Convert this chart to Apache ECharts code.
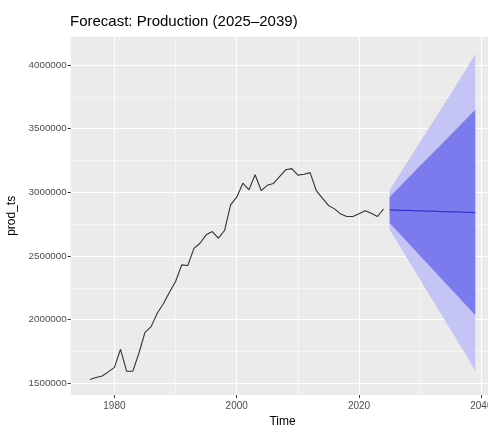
<!DOCTYPE html>
<html>
<head>
<meta charset="utf-8">
<script src="https://cdn.jsdelivr.net/npm/echarts@6/dist/echarts.min.js"></script>
<style>
  html, body { margin: 0; padding: 0; background: #ffffff; }
  #chart { width: 488px; height: 425px; }
</style>
</head>
<body>
<div id="chart"></div>
<script>
// Annual production history
const histYears = [1976,1977,1978,1979,1980,1981,1982,1983,1984,1985,1986,1987,1988,1989,
  1990,1991,1992,1993,1994,1995,1996,1997,1998,1999,2000,2001,2002,2003,2004,2005,2006,
  2007,2008,2009,2010,2011,2012,2013,2014,2015,2016,2017,2018,2019,2020,2021,2022,2023,2024];
const histValues = [1530000,1545000,1557000,1590000,1625000,1767000,1594000,1594000,1736000,
  1900000,1945000,2050000,2125000,2215000,2300000,2430000,2425000,2560000,2600000,2666000,
  2692000,2640000,2700000,2902000,2962000,3072000,3020000,3138000,3014000,3055000,3070000,
  3124000,3177000,3186000,3135000,3142000,3155000,3014000,2955000,2897000,2870000,2829000,
  2810000,2810000,2831000,2855000,2836000,2810000,2868000];

// Forecast horizon with point forecast and 80% / 95% intervals
const fcYears = [2025,2026,2027,2028,2029,2030,2031,2032,2033,2034,2035,2036,2037,2038,2039];
const fcMean = [2862000,2861000,2859000,2858000,2856000,2855000,2853000,2852000,2850000,
  2849000,2847000,2846000,2844000,2843000,2841000];
const fcLo80 = [2760000,2709000,2656000,2604000,2552000,2500000,2448000,2397000,2345000,
  2294000,2242000,2191000,2138000,2087000,2034000];
const fcHi80 = [2964000,3013000,3062000,3112000,3160000,3210000,3258000,3307000,3355000,
  3404000,3452000,3501000,3550000,3599000,3648000];
const fcLo95 = [2707000,2629000,2549000,2470000,2391000,2313000,2233000,2155000,2076000,
  1998000,1919000,1841000,1761000,1679000,1596000];
const fcHi95 = [3017000,3093000,3169000,3246000,3321000,3397000,3473000,3549000,3624000,
  3700000,3775000,3851000,3927000,4007000,4086000];

// Axis ticks
const xMajor = [1980, 2000, 2020, 2040];
const xMinor = [1990, 2010, 2030];
const yMajor = [1500000, 2000000, 2500000, 3000000, 3500000, 4000000];
const yMinor = [1750000, 2250000, 2750000, 3250000, 3750000];

const X_MIN = 1972.85, X_MAX = 2042.15;
const Y_MIN = 1408000, Y_MAX = 4222500;

const pairs = (xs, ys) => xs.map((x, i) => [x, ys[i]]);

const PANEL = '#EBEBEB';
const LIGHT = '#c5c5f5';
const DARK = '#7b7bed';
const FONT = 'Liberation Sans, Arial, sans-serif';

const chart = echarts.init(document.getElementById('chart'), null, { renderer: 'canvas' });

// A filled interval band: upper edge left-to-right, then lower edge back.
const bandSeries = (name, lower, upper, color, z) => ({
  name, type: 'custom', silent: true, z,
  data: [[fcYears[0], lower[0]]],
  renderItem: (params, api) => {
    const pts = [];
    fcYears.forEach((yr, i) => pts.push(api.coord([yr, upper[i]])));
    for (let i = fcYears.length - 1; i >= 0; i--) pts.push(api.coord([fcYears[i], lower[i]]));
    return { type: 'polygon', shape: { points: pts }, style: { fill: color } };
  }
});

chart.setOption({
  animation: false,
  backgroundColor: '#ffffff',
  title: {
    text: 'Forecast: Production (2025–2039)',
    left: 70, top: 14, padding: 0,
    textStyle: { fontFamily: FONT, fontSize: 15, fontWeight: 'normal', color: '#000000' }
  },
  grid: {
    left: 70.7, top: 36.7, right: -6.5, bottom: 30,
    show: true, backgroundColor: PANEL, borderWidth: 0,
    containLabel: false, outerBoundsMode: 'none'
  },
  xAxis: [{
    type: 'value', min: X_MIN, max: X_MAX,
    name: 'Time', nameLocation: 'middle', nameGap: 20,
    nameTextStyle: { fontFamily: FONT, fontSize: 12, color: '#000000', verticalAlign: 'top' },
    axisLine: { show: false },
    axisTick: { show: true, length: 3, lineStyle: { color: '#333333', width: 1 }, customValues: xMajor },
    axisLabel: { customValues: xMajor, margin: 6, color: '#4D4D4D', fontSize: 10,
      fontFamily: FONT, formatter: v => String(v) },
    splitLine: { show: true, lineStyle: { color: '#ffffff', width: 1.1 } }
  }, {
    type: 'value', min: X_MIN, max: X_MAX, position: 'bottom',
    axisLine: { show: false },
    axisTick: { show: false, customValues: xMinor },
    axisLabel: { show: false, customValues: xMinor },
    splitLine: { show: true, lineStyle: { color: '#ffffff', width: 0.5 } }
  }],
  yAxis: [{
    type: 'value', min: Y_MIN, max: Y_MAX,
    name: 'prod_ts', nameLocation: 'middle', nameGap: 41, nameRotate: 90,
    nameTextStyle: { fontFamily: FONT, fontSize: 12, color: '#000000' },
    axisLine: { show: false },
    axisTick: { show: true, length: 3, lineStyle: { color: '#333333', width: 1 }, customValues: yMajor },
    axisLabel: { customValues: yMajor, margin: 4, color: '#4D4D4D', fontSize: 9.8,
      fontFamily: FONT, formatter: v => String(v) },
    splitLine: { show: true, lineStyle: { color: '#ffffff', width: 1.1 } }
  }, {
    type: 'value', min: Y_MIN, max: Y_MAX, position: 'left',
    axisLine: { show: false },
    axisTick: { show: false, customValues: yMinor },
    axisLabel: { show: false, customValues: yMinor },
    splitLine: { show: true, lineStyle: { color: '#ffffff', width: 0.5 } }
  }],
  series: [
    {
      name: 'prod_ts', type: 'line', data: pairs(histYears, histValues),
      showSymbol: false, symbol: 'none', silent: true,
      lineStyle: { color: '#333333', width: 1.1 }, z: 3
    },
    bandSeries('95%', fcLo95, fcHi95, LIGHT, 2),
    bandSeries('80%', fcLo80, fcHi80, DARK, 3),
    {
      name: 'mean', type: 'line', data: pairs(fcYears, fcMean),
      showSymbol: false, symbol: 'none', silent: true,
      lineStyle: { color: '#3333d0', width: 1.2 }, z: 4
    }
  ]
});
</script>
</body>
</html>
